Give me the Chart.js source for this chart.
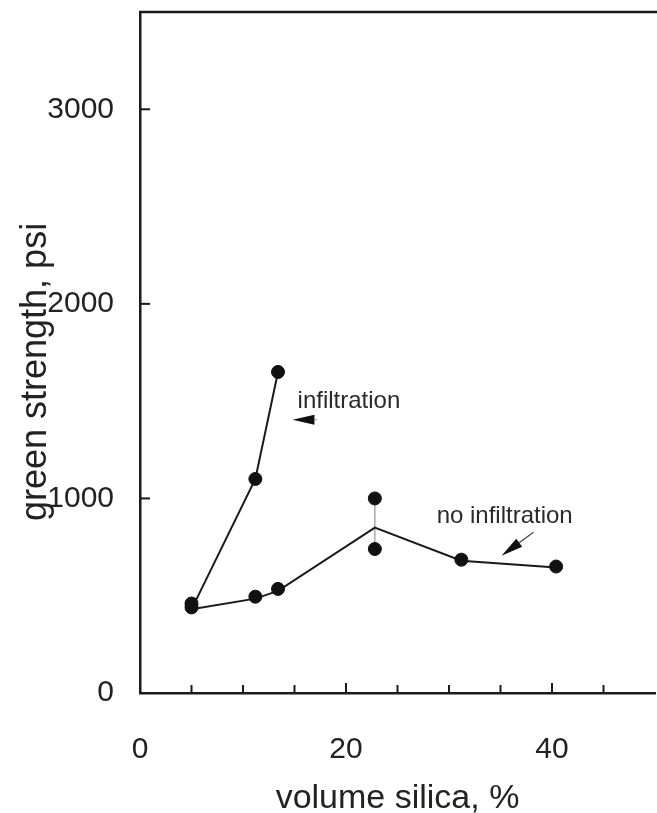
<!DOCTYPE html>
<html>
<head>
<meta charset="utf-8">
<title>green strength vs volume silica</title>
<script src="https://cdn.jsdelivr.net/npm/chart.js@4.4.1/dist/chart.umd.min.js"></script>
<style>
  html, body { margin: 0; padding: 0; background: #fff; }
  #wrap { width: 657px; height: 813px; }
</style>
</head>
<body>
<div id="wrap"><canvas id="strengthChart" width="657" height="813"></canvas></div>
<script>
// measured points (volume silica %, green strength psi)
const pointX = [5, 5, 11.2, 11.2, 13.4, 13.4, 22.8, 22.8, 31.2, 40.4];
const pointY = [460, 440, 1100, 495, 1650, 535, 1000, 740, 685, 650];

// drawn curves
const infilX = [5, 11.2, 13.4];
const infilY = [430, 1100, 1650];
const noInfilX = [5, 11.2, 13.4, 22.8, 31.2, 40.4];
const noInfilY = [430, 485, 525, 850, 680, 645];

// scatter bar at 22.8 %
const barX = [22.8, 22.8];
const barY = [1000, 740];

// axes
const xTickLabels = [0, 20, 40];
const xMinorTicks = [5, 10, 15, 20, 25, 30, 35, 40, 45];
const yTickLabels = [0, 1000, 2000, 3000];
const yTitle = "green strength, psi";

const ink = "#1a1a1a";
const fontFamily = "'Liberation Sans', Arial, Helvetica, sans-serif";

function toPoints(xs, ys) {
  return xs.map((x, i) => ({ x: x, y: ys[i] }));
}

// text labels and arrows, given in data units
const notes = [
  { text: "infiltration", x: 15.3, y: 1500, size: 24 },
  { text: "no infiltration", x: 28.8, y: 910, size: 24 }
];
const arrows = [
  { fromX: 17.2, fromY: 1405, toX: 14.8, toY: 1405, tail: "dotted" },
  { fromX: 38.2, fromY: 826, toX: 35.1, toY: 705, tail: "solid" }
];

const annotatePlugin = {
  id: "annotate",
  beforeDraw(chart) {
    const ctx = chart.ctx;
    ctx.save();
    ctx.fillStyle = "#fff";
    ctx.fillRect(0, 0, chart.width, chart.height);
    ctx.restore();
  },
  afterDraw(chart) {
    const ctx = chart.ctx;
    const xs = chart.scales.x;
    const ys = chart.scales.y;
    const area = chart.chartArea;

    ctx.save();
    // top frame line
    ctx.strokeStyle = ink;
    ctx.lineWidth = 2.5;
    ctx.beginPath();
    ctx.moveTo(area.left - 1, area.top);
    ctx.lineTo(chart.width, area.top);
    ctx.stroke();

    // inward ticks
    ctx.lineWidth = 2;
    xMinorTicks.forEach(v => {
      const px = xs.getPixelForValue(v);
      const len = (v % 20 === 0) ? 10 : 8;
      ctx.beginPath();
      ctx.moveTo(px, area.bottom);
      ctx.lineTo(px, area.bottom - len);
      ctx.stroke();
    });
    yTickLabels.slice(1).forEach(v => {
      const py = ys.getPixelForValue(v);
      ctx.beginPath();
      ctx.moveTo(area.left, py);
      ctx.lineTo(area.left + 10, py);
      ctx.stroke();
    });

    // y axis title, sits a little below the middle of the axis
    ctx.fillStyle = "#222";
    ctx.font = "36px " + fontFamily;
    ctx.textAlign = "center";
    ctx.textBaseline = "middle";
    ctx.translate(36, ys.getPixelForValue(1650));
    ctx.rotate(-Math.PI / 2);
    ctx.fillText(yTitle, 0, 0);
    ctx.setTransform(1, 0, 0, 1, 0, 0);

    // notes
    ctx.fillStyle = "#2a2a2a";
    ctx.textAlign = "left";
    notes.forEach(n => {
      ctx.font = n.size + "px " + fontFamily;
      ctx.fillText(n.text, xs.getPixelForValue(n.x), ys.getPixelForValue(n.y));
    });

    // arrows
    arrows.forEach(a => {
      const x1 = xs.getPixelForValue(a.fromX), y1 = ys.getPixelForValue(a.fromY);
      const x2 = xs.getPixelForValue(a.toX), y2 = ys.getPixelForValue(a.toY);
      const ang = Math.atan2(y2 - y1, x2 - x1);
      const head = 22, half = 5;
      const bx = x2 - head * Math.cos(ang), by = y2 - head * Math.sin(ang);
      ctx.strokeStyle = a.tail === "dotted" ? "#aaa" : "#444";
      ctx.lineWidth = 1.2;
      if (a.tail === "dotted") ctx.setLineDash([3, 6]);
      ctx.beginPath();
      ctx.moveTo(x1, y1);
      ctx.lineTo(bx, by);
      ctx.stroke();
      ctx.setLineDash([]);
      ctx.fillStyle = "#111";
      ctx.beginPath();
      ctx.moveTo(x2, y2);
      ctx.lineTo(bx + half * Math.sin(ang), by - half * Math.cos(ang));
      ctx.lineTo(bx - half * Math.sin(ang), by + half * Math.cos(ang));
      ctx.closePath();
      ctx.fill();
    });
    ctx.restore();
  }
};

new Chart(document.getElementById("strengthChart"), {
  type: "scatter",
  data: {
    datasets: [
      {
        label: "measured",
        data: toPoints(pointX, pointY),
        backgroundColor: "#111",
        borderColor: "#111",
        pointRadius: 6.5,
        showLine: false
      },
      {
        label: "infiltration",
        data: toPoints(infilX, infilY),
        borderColor: ink,
        borderWidth: 2,
        pointRadius: 0,
        showLine: true,
        tension: 0
      },
      {
        label: "no infiltration",
        data: toPoints(noInfilX, noInfilY),
        borderColor: ink,
        borderWidth: 2,
        pointRadius: 0,
        showLine: true,
        tension: 0
      },
      {
        label: "range",
        data: toPoints(barX, barY),
        borderColor: "#aaa",
        borderWidth: 1.5,
        pointRadius: 0,
        showLine: true
      }
    ]
  },
  options: {
    responsive: false,
    animation: false,
    layout: { autoPadding: false, padding: { top: 12, right: 2, left: 0, bottom: 0 } },
    plugins: {
      legend: { display: false },
      tooltip: { enabled: false }
    },
    scales: {
      x: {
        type: "linear",
        min: 0,
        max: 50,
        afterFit(scale) {
          scale.height = 120;
          scale.paddingLeft = 0;
          scale.paddingRight = 0;
        },
        afterBuildTicks(scale) { scale.ticks = xTickLabels.map(v => ({ value: v })); },
        grid: { display: false },
        border: { display: true, color: ink, width: 2.5 },
        ticks: {
          padding: 31,
          color: "#222",
          maxRotation: 0,
          font: { family: fontFamily, size: 30 },
          callback: v => String(v)
        },
        title: {
          display: true,
          text: "volume silica, %",
          color: "#222",
          padding: { top: 0, bottom: 0 },
          font: { family: fontFamily, size: 34, lineHeight: 0.85 }
        }
      },
      y: {
        type: "linear",
        min: 0,
        max: 3500,
        afterFit(scale) {
          scale.width = 140;
          scale.paddingTop = 0;
          scale.paddingBottom = 0;
        },
        afterBuildTicks(scale) { scale.ticks = yTickLabels.map(v => ({ value: v })); },
        grid: { display: false },
        border: { display: true, color: ink, width: 2.5 },
        ticks: {
          padding: 18,
          color: "#222",
          font: { family: fontFamily, size: 30 },
          callback: v => String(v)
        }
      }
    }
  },
  plugins: [annotatePlugin]
});
</script>
</body>
</html>
